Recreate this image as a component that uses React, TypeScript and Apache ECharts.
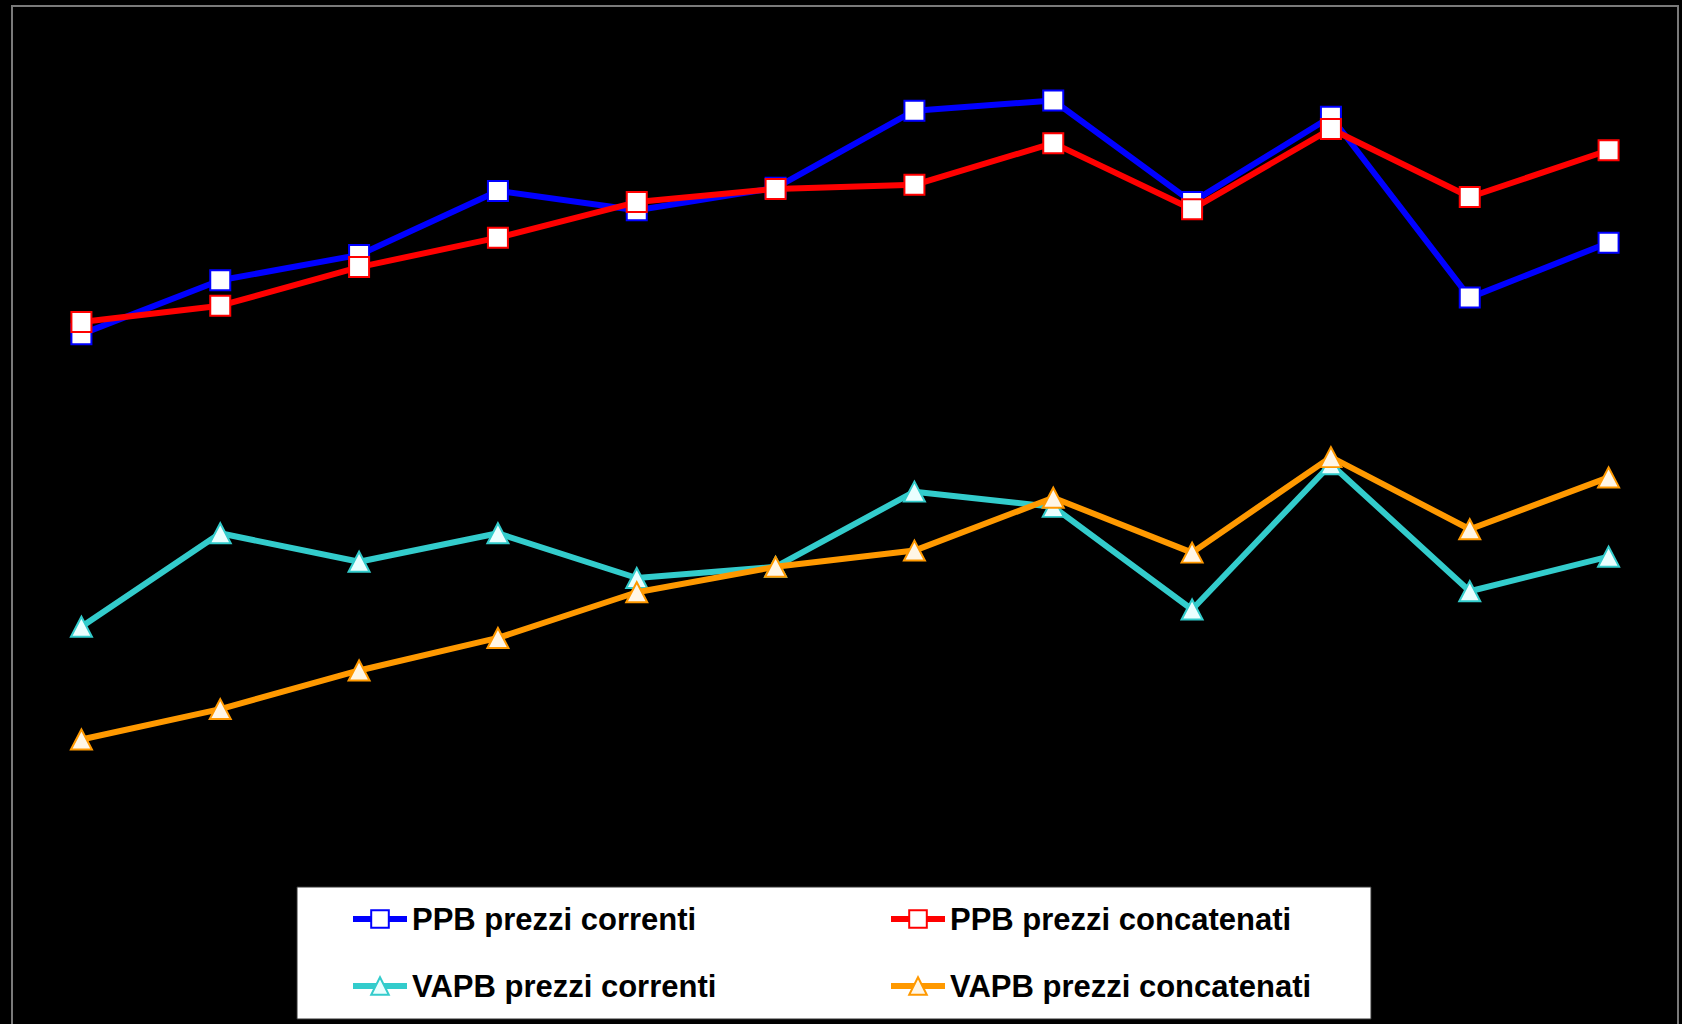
import React, { useEffect, useRef } from "react";
import * as echarts from "echarts";

// Periods along the horizontal axis (axis itself is hidden)
const periods = ["1", "2", "3", "4", "5", "6", "7", "8", "9", "10", "11", "12"];

const seriesNames = [
  "PPB prezzi correnti",
  "PPB prezzi concatenati",
  "VAPB prezzi correnti",
  "VAPB prezzi concatenati",
];

const ppbCorrenti = [67.7, 73.0, 75.5, 81.8, 79.9, 82.1, 89.7, 90.7, 80.7, 89.1, 71.3, 76.7];
const ppbConcatenati = [68.9, 70.5, 74.3, 77.2, 80.7, 82.0, 82.4, 86.5, 80.0, 87.9, 81.2, 85.8];
const vapbCorrenti = [38.9, 48.1, 45.3, 48.1, 43.7, 44.8, 52.2, 50.7, 40.6, 54.9, 42.4, 45.8];
const vapbConcatenati = [27.8, 30.8, 34.6, 37.8, 42.3, 44.8, 46.4, 51.6, 46.2, 55.6, 48.5, 53.6];

const colors = ["#0000ff", "#ff0000", "#33cccc", "#ff9900"];
const fills = ["#ffffff", "#ffffff", "#eaffff", "#fff6e6"];
const symbols = ["rect", "rect", "triangle", "triangle"];
const values = [ppbCorrenti, ppbConcatenati, vapbCorrenti, vapbConcatenati];

const FONT = "'Liberation Sans', Arial, sans-serif";

export default function App() {
  const ref = useRef<HTMLDivElement>(null);

  useEffect(() => {
    document.body.style.margin = "0";
    document.body.style.background = "#000";
    if (!ref.current) return;
    const chart = echarts.init(ref.current, null, { renderer: "svg" });

    const series = values.map((data, i) => ({
      name: seriesNames[i],
      type: "line",
      data,
      symbol: symbols[i],
      symbolSize: symbols[i] === "rect" ? 20 : [21, 20],
      lineStyle: { color: colors[i], width: 6 },
      itemStyle: { color: fills[i], borderColor: colors[i], borderWidth: 2 },
      z: 3 + i,
    }));

    const legendText = {
      color: "#000",
      fontSize: 31,
      fontWeight: "bold" as const,
      fontFamily: FONT,
      lineHeight: 36,
    };

    const legendBase = {
      orient: "vertical",
      top: 901,
      itemWidth: 54,
      itemHeight: 22,
      itemGap: 31,
      textStyle: legendText,
      lineStyle: { width: 6 },
      padding: 0,
      selectedMode: false,
    };

    chart.setOption({
      animation: false,
      backgroundColor: "#000",
      grid: { left: 12, top: 6, width: 1666, height: 1016 },
      xAxis: {
        type: "category",
        data: periods,
        boundaryGap: true,
        show: false,
      },
      yAxis: {
        type: "value",
        min: 0,
        max: 100,
        show: false,
      },
      legend: [
        { ...legendBase, data: [seriesNames[0], seriesNames[2]], left: 350 },
        { ...legendBase, data: [seriesNames[1], seriesNames[3]], left: 888 },
      ],
      graphic: [
        {
          type: "polyline",
          shape: { points: [[12, 1030], [12, 6], [1678, 6], [1678, 1030]] },
          style: { fill: "none", stroke: "#7a7a7a", lineWidth: 2 },
          z: 0,
          silent: true,
        },
        {
          type: "rect",
          shape: { x: 297, y: 887, width: 1074, height: 132 },
          style: { fill: "#ffffff", stroke: "#333", lineWidth: 1 },
          z: 1,
          silent: true,
        },
      ],
      series,
    });

    return () => chart.dispose();
  }, []);

  return <div ref={ref} style={{ width: 1682, height: 1024, background: "#000" }} />;
}
